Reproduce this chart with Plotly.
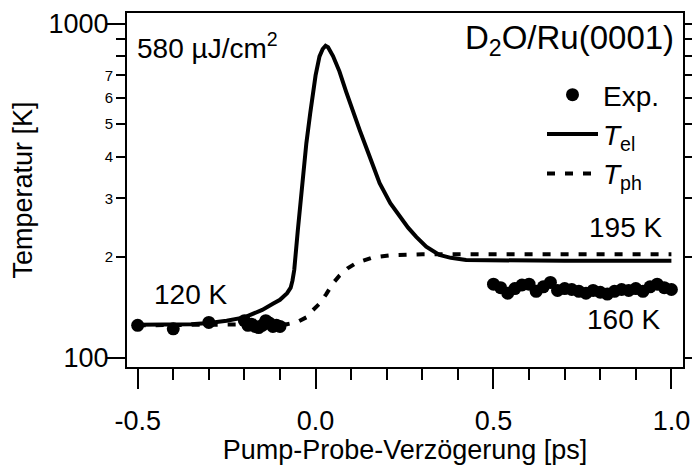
import plotly.graph_objects as go

# Measured temperatures (K) vs pump-probe delay (ps)
exp_delay = [-0.5, -0.4, -0.3, -0.2, -0.19, -0.18, -0.17, -0.16, -0.15, -0.14, -0.13, -0.12, -0.11, -0.10,
             0.50, 0.52, 0.54, 0.56, 0.58, 0.60, 0.62, 0.64, 0.66, 0.68, 0.70, 0.72, 0.74,
             0.76, 0.78, 0.80, 0.82, 0.84, 0.86, 0.88, 0.90, 0.92, 0.94, 0.96, 0.98, 1.00]
exp_temp = [125, 122, 127.5, 129, 125, 126, 124, 123, 125, 129, 127, 124, 125, 124,
            166, 162, 156, 161, 165, 166, 158, 163, 168, 159, 161, 160, 158,
            156, 159, 157, 155, 158, 160, 159, 161, 158, 163, 166, 162, 160]

# Two-temperature model: electron temperature
el_delay = [-0.5, -0.4, -0.35, -0.3, -0.25, -0.2, -0.15, -0.12, -0.1, -0.08, -0.07, -0.065, -0.06,
            -0.05, -0.045, -0.035, -0.026, -0.015, -0.0075, 0.0, 0.011, 0.02, 0.028, 0.035,
            0.049, 0.067, 0.086, 0.105, 0.124, 0.15, 0.18, 0.21, 0.236, 0.26, 0.283, 0.311,
            0.348, 0.38, 0.423, 0.5, 0.7, 1.0]
el_temp = [125.5, 125.5, 125.8, 127, 129, 132, 139, 145, 149, 156, 162, 170, 183,
           240, 276, 350, 438, 540, 620, 700, 798, 840, 859, 850,
           800, 720, 625, 545, 480, 405, 333, 290, 264, 245, 230, 215,
           203, 199, 196, 195.5, 195, 195]

# Two-temperature model: phonon (lattice) temperature
ph_delay = [-0.5, -0.1, -0.08, -0.05, -0.026, -0.01, 0.011, 0.03, 0.049, 0.067, 0.09, 0.114,
            0.14, 0.16, 0.208, 0.25, 0.3, 0.5, 1.0]
ph_temp = [125, 125.5, 126, 128, 132, 138, 145, 155, 167, 176, 185, 192,
           197, 199.5, 202.5, 203.5, 204, 204, 204]

x_ticks = [-0.5, 0.0, 0.5, 1.0]
x_ticktext = ["-0.5", "0.0", "0.5", "1.0"]
x_minor = [-0.4, -0.3, -0.2, -0.1, 0.1, 0.2, 0.3, 0.4, 0.6, 0.7, 0.8, 0.9]
y_decades = [100, 1000]
y_decade_text = ["100", "1000"]
y_inner = [200, 300, 400, 500, 600, 700]
y_inner_text = ["2", "3", "4", "5", "6", "7"]
y_unlabeled = [800, 900]

FONT = "Liberation Sans, Arial, Helvetica, sans-serif"
TXT = 28
yrange = [1.972, 3.032]

# plot-area geometry (pixels) used to place the text labels
L, R, T, B = 127, 683, 13, 367


def px_x(p):
    return (p - L) / (R - L)


def px_y(p):
    return (B - p) / (B - T)


fig = go.Figure()
fig.add_trace(go.Scatter(x=exp_delay, y=exp_temp, mode="markers", name="Exp.",
                         marker=dict(color="black", size=13), yaxis="y2"))
fig.add_trace(go.Scatter(x=el_delay, y=el_temp, mode="lines", name="<i>T</i><sub>el</sub>",
                         line=dict(color="black", width=4)))
fig.add_trace(go.Scatter(x=ph_delay, y=ph_temp, mode="lines", name="<i>T</i><sub>ph</sub>",
                         line=dict(color="black", width=4, dash="8px,10px")))

fig.update_layout(
    template="none",
    width=692, height=465,
    margin=dict(l=L, r=692 - R, t=T, b=465 - B, pad=0),
    paper_bgcolor="white", plot_bgcolor="white",
    font=dict(family=FONT, size=TXT, color="black"),
    xaxis=dict(
        range=[-0.530, 1.0326], showgrid=False, zeroline=False, automargin=False,
        showline=True, linecolor="black", linewidth=2, mirror=True,
        tickmode="array", tickvals=x_ticks, ticktext=x_ticktext,
        ticks="outside", ticklen=20, tickwidth=2, tickcolor="black",
        tickfont=dict(size=27), ticklabelstandoff=9,
        minor=dict(tickmode="array", tickvals=x_minor, ticks="outside",
                   ticklen=11, tickwidth=2, tickcolor="black", showgrid=False),
        title=dict(text="Pump-Probe-Verzögerung [ps]", font=dict(size=27), standoff=15),
    ),
    yaxis=dict(
        type="log", range=yrange, showgrid=False, zeroline=False, automargin=False,
        showline=True, linecolor="black", linewidth=2, mirror="allticks",
        tickmode="array", tickvals=y_inner, ticktext=y_inner_text,
        ticks="outside", ticklen=9, tickwidth=2, tickcolor="black",
        tickfont=dict(size=15), ticklabelstandoff=0,
        minor=dict(tickmode="array", tickvals=y_unlabeled, ticks="outside",
                   ticklen=9, tickwidth=2, tickcolor="black", showgrid=False),
        title=dict(text="Temperatur [K]", font=dict(size=27), standoff=64),
    ),
    yaxis2=dict(
        type="log", range=yrange, overlaying="y", side="left", automargin=False,
        showgrid=False, zeroline=False, showline=False, mirror="allticks",
        tickmode="array", tickvals=y_decades, ticktext=y_decade_text,
        ticks="outside", ticklen=20, tickwidth=2, tickcolor="black",
        tickfont=dict(size=27), ticklabelstandoff=-8,
    ),
    legend=dict(x=px_x(665), xanchor="right", y=px_y(70), yanchor="top",
                bgcolor="rgba(0,0,0,0)", font=dict(size=TXT),
                tracegroupgap=0, itemwidth=51),
    showlegend=True,
)

fig.add_annotation(text="580 µJ/cm<sup>2</sup>", xref="paper", yref="paper",
                   x=px_x(135), y=px_y(26), xanchor="left", yanchor="top", showarrow=False,
                   font=dict(size=TXT))
fig.add_annotation(text="D<sub>2</sub>O/Ru(0001)", xref="paper", yref="paper",
                   x=px_x(676), y=px_y(17), xanchor="right", yanchor="top", showarrow=False,
                   font=dict(size=33))
fig.add_annotation(text="195 K", xref="paper", yref="paper",
                   x=px_x(664), y=px_y(227), xanchor="right", yanchor="middle",
                   showarrow=False, font=dict(size=TXT))
fig.add_annotation(text="120 K", xref="paper", yref="paper",
                   x=px_x(152), y=px_y(294), xanchor="left", yanchor="middle",
                   showarrow=False, font=dict(size=TXT))
fig.add_annotation(text="160 K", xref="paper", yref="paper",
                   x=px_x(662), y=px_y(319), xanchor="right", yanchor="middle",
                   showarrow=False, font=dict(size=TXT))

fig.write_html("out.html")
